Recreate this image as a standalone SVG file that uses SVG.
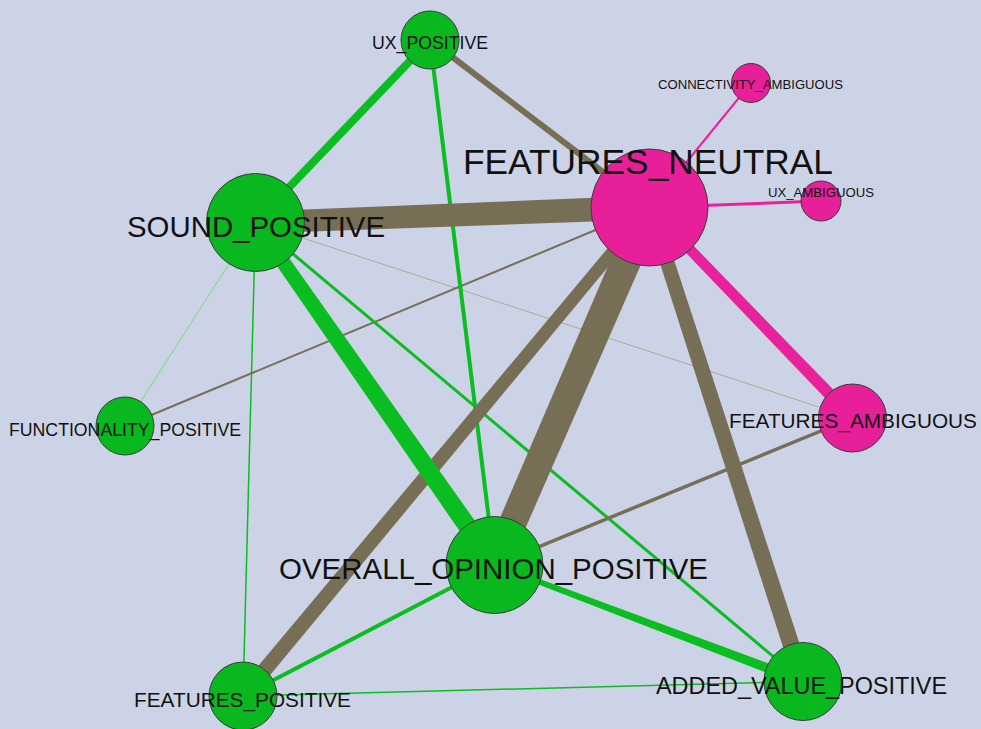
<svg xmlns="http://www.w3.org/2000/svg" width="981" height="729" viewBox="0 0 981 729">
<style>
.bg{fill:#cdd3e6}
.g{fill:#09b81f;stroke:#3a3a3a;stroke-width:1}
.p{fill:#e7209a;stroke:#3a3a3a;stroke-width:1}
.eg{stroke:#0abd20;fill:none}
.eb{stroke:#776e56;fill:none}
.ep{stroke:#e8229a;fill:none}
.fg{fill:#0abd20}
.fb{fill:#776e56}
.fp{fill:#e8229a}
text{font-family:"Liberation Sans",Arial,sans-serif;fill:#111;text-anchor:middle}
</style>
<rect class="bg" x="0" y="0" width="981" height="729"/>
<g id="edges">
<line class="eb" x1="255.5" y1="222.5" x2="852.5" y2="418" stroke="#b0a890" style="stroke:#b0a890" stroke-width="1"/>
<line class="eg" x1="255.5" y1="222.5" x2="125" y2="426" style="stroke:#6ee06e" stroke-width="1"/>
<line class="eg" x1="255.5" y1="222.5" x2="243" y2="696" stroke-width="1.5"/>
<line class="eg" x1="243" y1="696" x2="803" y2="681.5" stroke-width="1.5"/>
<line class="eb" x1="649.5" y1="207.5" x2="125" y2="426" stroke-width="2"/>
<line class="eg" x1="255.5" y1="222.5" x2="803" y2="681.5" stroke-width="3"/>
<line class="eb" x1="852.5" y1="418" x2="494.5" y2="565" stroke-width="3.5"/>
<line class="eg" x1="494.5" y1="565" x2="243" y2="696" stroke-width="4"/>
<line class="eb" x1="430" y1="40" x2="649.5" y2="207.5" stroke-width="6"/>
<line class="eg" x1="430" y1="40" x2="494.5" y2="565" stroke-width="4"/>
<line class="eg" x1="255.5" y1="222.5" x2="430" y2="40" stroke-width="8"/>
<line class="ep" x1="751" y1="83" x2="649.5" y2="207.5" stroke-width="2"/>
<line class="ep" x1="821" y1="201" x2="649.5" y2="207.5" stroke-width="3"/>
<polygon class="fp" points="645.9,211.0 848.2,422.2 856.8,413.8 653.1,204.0"/>
<polygon class="fb" points="642.8,209.7 794.9,684.1 811.1,678.9 656.2,205.3"/>
<polygon class="fb" points="644.9,203.7 237.2,691.2 248.8,700.8 654.1,211.3"/>
<polygon class="fg" points="493.6,567.3 801.2,686.2 804.8,676.8 495.4,562.7"/>
<polygon class="fg" points="249.8,226.5 486.7,570.4 502.3,559.6 261.2,218.5"/>
<polygon class="fb" points="635.7,201.5 482.1,559.6 506.9,570.4 663.3,213.5"/>
<polygon class="fb" points="255.9,233.5 650.0,219.5 649.0,195.5 255.1,211.5"/>
</g>
<g id="node-ux-positive"><circle class="g" cx="430" cy="40" r="29"/></g>
<g id="node-connectivity-ambiguous"><circle class="p" cx="751" cy="83" r="19.5"/></g>
<g id="node-features-neutral"><circle class="p" cx="649.5" cy="207.5" r="58.5"/></g>
<g id="node-ux-ambiguous"><circle class="p" cx="821" cy="201" r="20"/></g>
<g id="node-sound-positive"><circle class="g" cx="255.5" cy="222.5" r="49"/></g>
<g id="node-functionality-positive"><circle class="g" cx="125" cy="426" r="29"/></g>
<g id="node-features-ambiguous"><circle class="p" cx="852.5" cy="418" r="34"/></g>
<g id="node-overall-opinion-positive"><circle class="g" cx="494.5" cy="565" r="48.5"/></g>
<g id="node-features-positive"><circle class="g" cx="243" cy="696" r="34"/></g>
<g id="node-added-value-positive"><circle class="g" cx="803" cy="681.5" r="39"/></g>
<g id="labels">
<text x="430" y="49" font-size="17.7" textLength="116" lengthAdjust="spacingAndGlyphs">UX_POSITIVE</text>
<text x="750.5" y="89" font-size="13.1" textLength="185" lengthAdjust="spacingAndGlyphs">CONNECTIVITY_AMBIGUOUS</text>
<text x="648" y="174" font-size="35" textLength="370" lengthAdjust="spacingAndGlyphs">FEATURES_NEUTRAL</text>
<text x="821" y="197" font-size="13" textLength="106" lengthAdjust="spacingAndGlyphs">UX_AMBIGUOUS</text>
<text x="256" y="237" font-size="29.5" textLength="258" lengthAdjust="spacingAndGlyphs">SOUND_POSITIVE</text>
<text x="125" y="436" font-size="17.7" textLength="232" lengthAdjust="spacingAndGlyphs">FUNCTIONALITY_POSITIVE</text>
<text x="853" y="428" font-size="20.7" textLength="248" lengthAdjust="spacingAndGlyphs">FEATURES_AMBIGUOUS</text>
<text x="493.5" y="579" font-size="29.5" textLength="429" lengthAdjust="spacingAndGlyphs">OVERALL_OPINION_POSITIVE</text>
<text x="242.5" y="707" font-size="20.7" textLength="217" lengthAdjust="spacingAndGlyphs">FEATURES_POSITIVE</text>
<text x="801.5" y="694" font-size="23.3" textLength="291" lengthAdjust="spacingAndGlyphs">ADDED_VALUE_POSITIVE</text>
</g>
</svg>
